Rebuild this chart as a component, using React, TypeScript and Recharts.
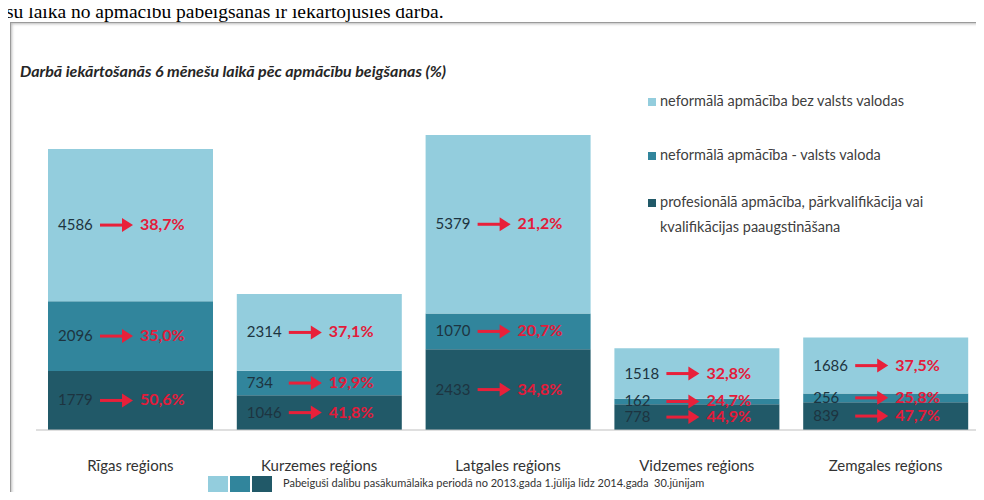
import { Bar, BarChart, LabelList, XAxis, YAxis } from 'recharts';

const REGIONS = ['Rīgas reģions', 'Kurzemes reģions', 'Latgales reģions', 'Vidzemes reģions', 'Zemgales reģions'];

// skaits (pabeiguši) pa apmācību veidiem
const PROF = [1779, 1046, 2433, 778, 839];
const VALSTS = [2096, 734, 1070, 162, 256];
const BEZ = [4586, 2314, 5379, 1518, 1686];

// iekārtojušies darbā 6 mēnešu laikā, %
const PROF_PCT = ['50,6%', '41,8%', '34,8%', '44,9%', '47,7%'];
const VALSTS_PCT = ['35,0%', '19,9%', '20,7%', '24,7%', '25,8%'];
const BEZ_PCT = ['38,7%', '37,1%', '21,2%', '32,8%', '37,5%'];

const SERIES = [
  { key: 'bez', name: 'neformālā apmācība bez valsts valodas', color: '#93cddd' },
  { key: 'valsts', name: 'neformālā apmācība - valsts valoda', color: '#31859c' },
  { key: 'prof', name: 'profesionālā apmācība, pārkvalifikācija vai kvalifikācijas paaugstināšana', color: '#215968' },
];

const data = REGIONS.map((region, i) => ({
  region,
  prof: PROF[i],
  valsts: VALSTS[i],
  bez: BEZ[i],
}));

const FONT = 'Lato, "Open Sans", sans-serif';

function makeLabel(pcts: string[]) {
  return (props: any) => {
    const { x, y, height, value, index } = props;
    const cy = y + height / 2;
    const ax = x + 52;
    return (
      <g>
        <text x={x + 10} y={cy} dy={5} fontSize={15} fill="#1d3440" fontFamily={FONT}>
          {value}
        </text>
        <line x1={ax} y1={cy} x2={ax + 26} y2={cy} stroke="#e8203a" strokeWidth={3} />
        <polygon points={`${ax + 22},${cy - 7} ${ax + 33},${cy} ${ax + 22},${cy + 7}`} fill="#e8203a" />
        <text x={x + 92} y={cy} dy={5} fontSize={16} fontWeight={700} fill="#e31b3a" fontFamily={FONT}>
          {pcts[index]}
        </text>
      </g>
    );
  };
}

function TopLegend() {
  const rows = [
    { c: SERIES[0].color, lines: ['neformālā apmācība bez valsts valodas'], y: 88 },
    { c: SERIES[1].color, lines: ['neformālā apmācība - valsts valoda'], y: 142 },
    { c: SERIES[2].color, lines: ['profesionālā apmācība, pārkvalifikācija vai', 'kvalifikācijas paaugstināšana'], y: 189 },
  ];
  return (
    <>
      {rows.map((r, i) => (
        <div
          key={i}
          style={{
            position: 'absolute',
            left: 648,
            top: r.y,
            fontFamily: FONT,
            fontSize: 14.5,
            color: '#404040',
            lineHeight: '25px',
            whiteSpace: 'nowrap',
          }}
        >
          <span style={{ display: 'inline-block', width: 8, height: 8, background: r.c, marginRight: 4 }} />
          {r.lines[0]}
          {r.lines[1] && <div style={{ paddingLeft: 12 }}>{r.lines[1]}</div>}
        </div>
      ))}
    </>
  );
}

export default function App() {
  return (
    <div style={{ position: 'relative', width: 984, height: 500, margin: -8, overflow: 'hidden', background: '#fff' }}>
      <div
        style={{
          position: 'absolute',
          left: 6,
          top: 1,
          fontFamily: '"Liberation Serif", serif',
          fontSize: 19.5,
          lineHeight: '22px',
          color: '#000',
          whiteSpace: 'nowrap',
        }}
      >
        su laika no apmācību pabeigšanas ir iekārtojušies darbā.
      </div>
      <div
        style={{
          position: 'absolute',
          left: 10,
          top: 22,
          width: 990,
          height: 500,
          border: '1px solid #9a9a9a',
          boxShadow: 'inset 1px 1px 3px #bbb',
        }}
      />
      <div
        style={{
          position: 'absolute',
          left: 20,
          top: 61,
          fontFamily: FONT,
          fontSize: 16,
          fontWeight: 700,
          fontStyle: 'italic',
          color: '#262626',
          whiteSpace: 'nowrap',
        }}
      >
        Darbā iekārtošanās 6 mēnešu laikā pēc apmācību beigšanas (%)
      </div>
      <TopLegend />
      <div style={{ position: 'absolute', left: 10, top: 22 }}>
        <BarChart width={974} height={478} data={data} margin={{ top: 109, right: 4, bottom: 30, left: 26 }} barSize={165}>
          <XAxis
            dataKey="region"
            height={40}
            axisLine={{ stroke: '#bfbfbf' }}
            tickLine={false}
            tick={{ fontSize: 15, fill: '#333', fontFamily: FONT, dy: 22 }}
            interval={0}
          />
          <YAxis hide domain={[0, 9000]} />
          <Bar dataKey="prof" stackId="a" fill={SERIES[2].color} isAnimationActive={false}>
            <LabelList dataKey="prof" content={makeLabel(PROF_PCT)} />
          </Bar>
          <Bar dataKey="valsts" stackId="a" fill={SERIES[1].color} isAnimationActive={false}>
            <LabelList dataKey="valsts" content={makeLabel(VALSTS_PCT)} />
          </Bar>
          <Bar dataKey="bez" stackId="a" fill={SERIES[0].color} isAnimationActive={false}>
            <LabelList dataKey="bez" content={makeLabel(BEZ_PCT)} />
          </Bar>
        </BarChart>
      </div>
      <div style={{ position: 'absolute', left: 208, top: 476, display: 'flex', gap: 2 }}>
        {[SERIES[0].color, SERIES[1].color, SERIES[2].color].map((c) => (
          <span key={c} style={{ width: 20, height: 17, background: c }} />
        ))}
      </div>
      <div style={{ position: 'absolute', left: 283, top: 476, fontFamily: FONT, fontSize: 11, color: '#333', whiteSpace: 'nowrap' }}>
        Pabeiguši dalību pasākumālaika periodā no 2013.gada 1.jūlija līdz 2014.gada&nbsp; 30.jūnijam
      </div>
    </div>
  );
}
